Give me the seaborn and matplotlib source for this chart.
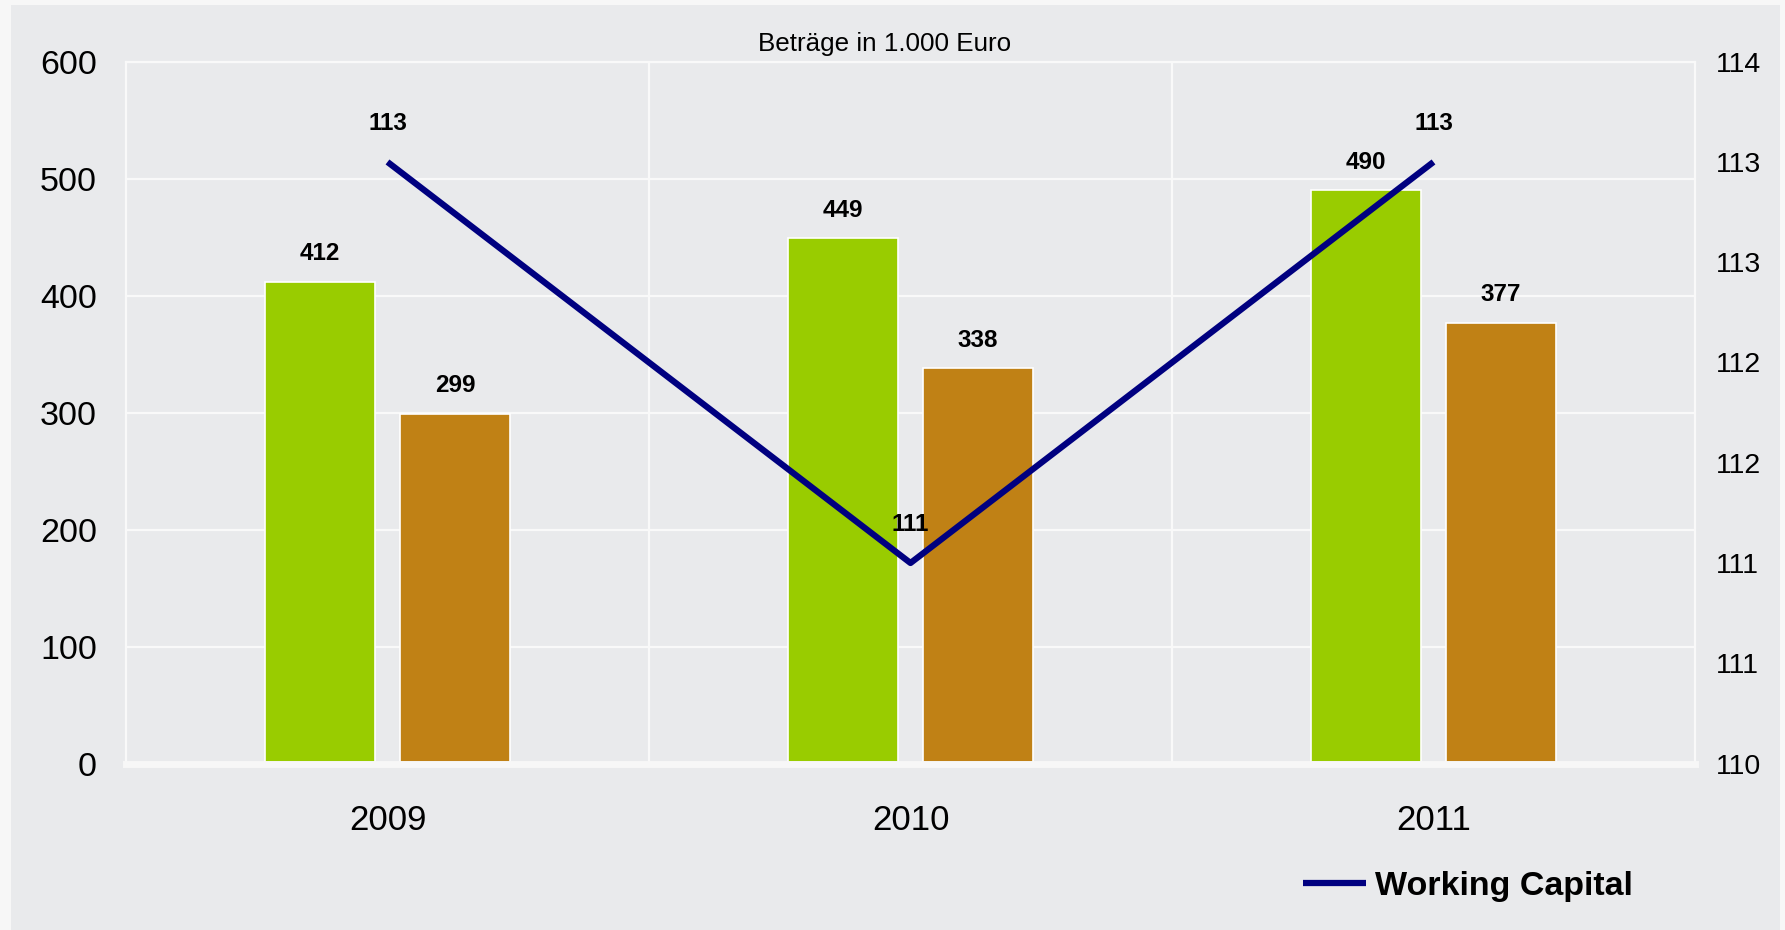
import math
import numpy as np
import pandas as pd
import matplotlib
matplotlib.use("Agg")
import matplotlib.pyplot as plt
from matplotlib.patches import Rectangle
from matplotlib.ticker import FixedLocator, FuncFormatter
import seaborn as sns

# Werte (in 1.000 Euro)
jahre = ["2009", "2010", "2011"]
umlaufvermoegen = [412, 449, 490]
kurzfr_verbindlichkeiten = [299, 338, 377]
working_capital = [113, 111, 113]
links_ticks = [0, 100, 200, 300, 400, 500, 600]
rechts_ticks = [110, 110.5, 111, 111.5, 112, 112.5, 113, 113.5]

GRUEN = "#99CC00"
OCKER = "#C08115"
NAVY = "#000080"
PANEL = "#E9EAEC"
RAND = "#F7F7F7"
GITTER = "#F9F9F9"

sns.set_theme(style="white")
plt.rcParams["font.family"] = ["Liberation Sans", "DejaVu Sans"]
plt.rcParams["text.color"] = "black"

W, H = 1785, 930
fig = plt.figure(figsize=(W / 100, H / 100), dpi=100, facecolor=RAND)
fig.add_artist(Rectangle((11 / W, 0), (1780 - 11) / W, (H - 5) / H,
                         transform=fig.transFigure, facecolor=PANEL,
                         edgecolor="none", zorder=-5))

links, rechts, oben, unten = 126, 1695, 61.7, 763.5
ax = fig.add_axes([links / W, 1 - unten / H, (rechts - links) / W, (unten - oben) / H])
ax.set_facecolor(PANEL)

df = pd.DataFrame({
    "Jahr": jahre * 2,
    "Serie": ["Umlaufvermögen"] * len(jahre) + ["Kurzfristige Verbindlichkeiten"] * len(jahre),
    "Wert": umlaufvermoegen + kurzfr_verbindlichkeiten,
})

sns.barplot(data=df, x="Jahr", y="Wert", hue="Serie", palette=[GRUEN, OCKER],
            saturation=1, width=0.516, gap=0.178, edgecolor="white",
            linewidth=1.2, legend=False, ax=ax, zorder=2)

ax.set_ylim(links_ticks[0], links_ticks[-1])
ax.set_xlim(-0.5, len(jahre) - 0.5)
ax.yaxis.set_major_locator(FixedLocator(links_ticks))
ax.set_xlabel("")
ax.set_ylabel("")
ax.set_axisbelow(True)
ax.yaxis.grid(True, color=GITTER, lw=1.6)
ax.set_xticks(np.arange(len(jahre) - 1) + 0.5, minor=True)
ax.xaxis.grid(True, which="minor", color=GITTER, lw=1.6)
ax.xaxis.grid(False, which="major")
for s in ("left", "right", "top"):
    ax.spines[s].set_color(GITTER)
    ax.spines[s].set_linewidth(1.6)
ax.spines["bottom"].set_color(RAND)
ax.spines["bottom"].set_linewidth(5)
ax.tick_params(axis="y", length=0, labelsize=24.5, pad=21, labelcolor="black")
ax.tick_params(axis="x", which="both", length=0, labelsize=25, pad=29, labelcolor="black")

# Datenbeschriftungen der Balken
for cont in ax.containers:
    for p in cont:
        ax.annotate(f"{p.get_height():.0f}",
                    (p.get_x() + p.get_width() / 2, p.get_height()),
                    xytext=(0, 20), textcoords="offset points",
                    ha="center", va="center", fontsize=17.5,
                    fontweight="bold", color="black")

# Working Capital auf der Sekundärachse
ax2 = ax.twinx()
ax2.patch.set_visible(False)
pos = np.arange(len(jahre))
sns.lineplot(x=pos, y=working_capital, ax=ax2, color=NAVY, lw=4.5,
             label="Working Capital", legend=False, zorder=5)
ax2.get_lines()[0].set_solid_capstyle("butt")
ax2.set_xlim(-0.5, len(jahre) - 0.5)
ax2.set_ylim(rechts_ticks[0], rechts_ticks[-1])
ax2.yaxis.set_major_locator(FixedLocator(rechts_ticks))
ax2.yaxis.set_major_formatter(FuncFormatter(lambda v, _: f"{math.floor(v + 0.5):d}"))
ax2.grid(False)
ax2.set_ylabel("")
for s in ax2.spines.values():
    s.set_visible(False)
ax2.tick_params(axis="y", length=0, labelsize=20.5, pad=15, labelcolor="black")

for x, v in zip(pos, working_capital):
    ax2.annotate(f"{v:.0f}", (x, v), xytext=(0, 27.5), textcoords="offset points",
                 ha="center", va="center", fontsize=17.5, fontweight="bold",
                 color="black", zorder=6)

fig.text(885 / W, 1 - 44 / H, "Beträge in 1.000 Euro", ha="center", va="center",
         fontsize=18.7, color="black")

linie = ax2.get_lines()[0]
fig.legend(handles=[linie], labels=["Working Capital"], loc="center left",
           bbox_to_anchor=(1303 / W, 1 - 886 / H), frameon=False,
           prop={"weight": "bold", "size": 24.5}, handlelength=1.85,
           handletextpad=0.26, borderpad=0, borderaxespad=0, labelcolor="black")

fig.savefig("out.png", dpi=100, facecolor=fig.get_facecolor())
